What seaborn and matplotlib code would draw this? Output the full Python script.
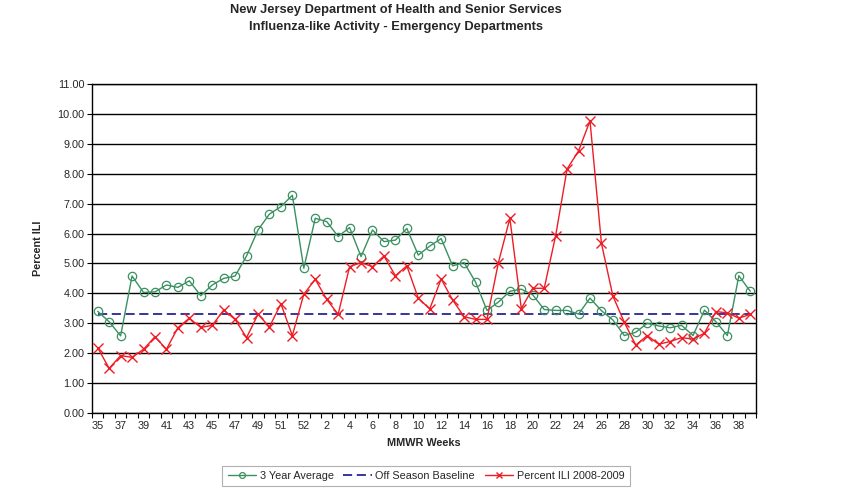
import numpy as np
import pandas as pd
import matplotlib
matplotlib.use('Agg')
import matplotlib.pyplot as plt
import seaborn as sns

# MMWR weeks, 2008 season (53 weeks) into 2009
weeks = list(range(35, 54)) + list(range(1, 40))

# labels as printed on the chart (every other week)
tick_labels = ['35', '37', '39', '41', '43', '45', '47', '49', '51', '52',
               '2', '4', '6', '8', '10', '12', '14', '16', '18', '20',
               '22', '24', '26', '28', '30', '32', '34', '36', '38']

three_year_avg = [3.40, 3.05, 2.58, 4.58, 4.03, 4.05, 4.28, 4.20, 4.42, 3.92,
                  4.28, 4.50, 4.58, 5.25, 6.12, 6.65, 6.90, 7.28, 4.84, 6.51,
                  6.40, 5.90, 6.20, 5.23, 6.12, 5.73, 5.78, 6.17, 5.28, 5.58,
                  5.83, 4.92, 5.03, 4.38, 3.43, 3.71, 4.07, 4.14, 3.95, 3.46,
                  3.43, 3.43, 3.31, 3.84, 3.42, 3.11, 2.59, 2.70, 3.00, 2.91,
                  2.85, 2.93, 2.59, 3.44, 3.05, 2.59, 4.59, 4.07]

percent_ili = [2.18, 1.49, 1.92, 1.86, 2.13, 2.55, 2.13, 2.85, 3.17, 2.86,
               2.93, 3.44, 3.13, 2.52, 3.30, 2.88, 3.65, 2.59, 3.97, 4.47,
               3.80, 3.30, 4.89, 5.03, 4.89, 5.25, 4.59, 4.92, 3.84, 3.48,
               4.48, 3.78, 3.22, 3.13, 3.13, 5.03, 6.51, 3.49, 4.17, 4.17,
               5.93, 8.16, 8.76, 9.77, 5.67, 3.91, 3.03, 2.27, 2.59, 2.30,
               2.39, 2.52, 2.47, 2.67, 3.39, 3.35, 3.17, 3.30]

baseline = 3.30

df = pd.DataFrame({'idx': np.arange(len(weeks)), 'week': weeks,
                   'avg': three_year_avg, 'ili': percent_ili})
df['base'] = baseline

sns.set_style('white')
plt.rcParams['font.family'] = ['Liberation Sans', 'DejaVu Sans']

fig = plt.figure(figsize=(8.57, 4.95), dpi=100)
ax = fig.add_axes([92/857, 1 - 413/495, (756-92)/857, (413-84)/495])

green = '#3a9060'
red = '#ee1c25'
navy = '#000080'

# horizontal grid
for v in range(0, 12):
    ax.axhline(v, color='black', lw=1.0, zorder=0)

sns.lineplot(data=df, x='idx', y='avg', ax=ax, color=green, lw=1.0,
             marker='o', markersize=6, markerfacecolor='none',
             markeredgecolor=green, markeredgewidth=0.9,
             label='3 Year Average', zorder=3)
sns.lineplot(data=df, x='idx', y='base', ax=ax, color=navy, lw=1.1,
             dashes=False, linestyle=(0, (6, 3)),
             label='Off Season Baseline', zorder=2)
sns.lineplot(data=df, x='idx', y='ili', ax=ax, color=red, lw=1.0,
             marker='x', markersize=7, markeredgecolor=red,
             markeredgewidth=1.0, label='Percent ILI 2008-2009', zorder=4)

ax.set_xlim(-0.5, len(weeks) - 0.5)
ax.set_ylim(0, 11)
ax.set_yticks(np.arange(0, 12))
ax.set_yticklabels([f'{v:.2f}' for v in range(0, 12)], fontsize=7.8)

# ticks on category boundaries, labels at every other category centre
ax.set_xticks(np.arange(-0.5, len(weeks) + 0.5, 1.0))
ax.set_xticklabels([])
ax.set_xticks(np.arange(0, len(weeks), 2), tick_labels, minor=True)
ax.tick_params(axis='x', which='major', direction='out', length=3.5,
               width=0.8, color='black', bottom=True)
ax.tick_params(axis='x', which='minor', length=0, labelsize=7.8, pad=6)
ax.tick_params(axis='y', direction='out', length=3.5, width=0.8,
               color='black', left=True, pad=2)

for s in ax.spines.values():
    s.set_color('black')
    s.set_linewidth(1.0)

ax.set_xlabel('MMWR Weeks', fontsize=7.8, fontweight='bold', labelpad=5)
ax.set_ylabel('Percent ILI', fontsize=7.8, fontweight='bold', labelpad=10)

fig.text(0.462, 1 - 10/495, 'New Jersey Department of Health and Senior Services',
         ha='center', va='center', fontsize=9.3, fontweight='bold')
fig.text(0.462, 1 - 27/495, 'Influenza-like Activity - Emergency Departments',
         ha='center', va='center', fontsize=9.3, fontweight='bold')

leg = ax.legend(loc='center', bbox_to_anchor=(426/857, 1 - 476/495),
                bbox_transform=fig.transFigure, ncol=3, fontsize=7.8,
                frameon=True, fancybox=False, edgecolor='#b0b0b0',
                framealpha=1, handlelength=2.6, handletextpad=0.35,
                columnspacing=0.9, borderpad=0.5, markerscale=0.7)
leg.get_frame().set_linewidth(0.8)

fig.savefig('out.png', dpi=100)
